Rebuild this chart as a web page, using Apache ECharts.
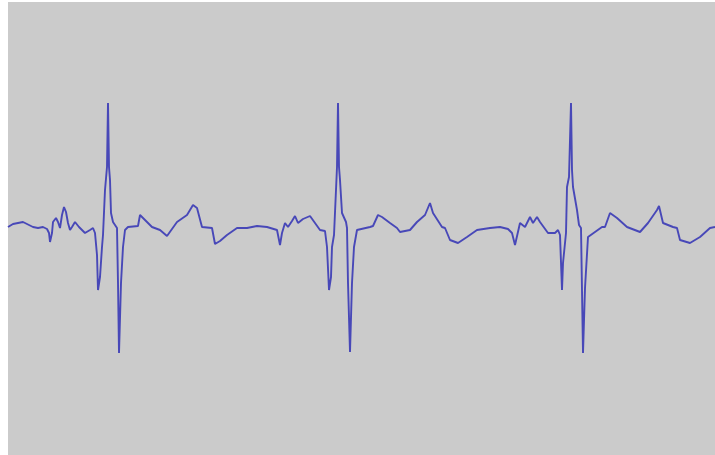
<!DOCTYPE html>
<html>
<head>
<meta charset="utf-8">
<script src="https://cdn.jsdelivr.net/npm/echarts@6/dist/echarts.min.js"></script>
<style>
  html, body { margin: 0; padding: 0; background: #ffffff; }
  #chart { position: absolute; left: 0; top: 0; width: 715px; height: 455px; }
</style>
</head>
<body>
<div id="chart"></div>
<script>
// ECG trace: sample index and amplitude (arbitrary units, baseline = 0)
const sampleIdx = [
  0,5,15,19,25,30,35,39,41,42,44,45,48,50,52,54,56,58,60,62,64,67,69,71,74,77,82,85,87,89,90,92,94,95,97,99,100,101,102,103,105,109,110,111,113,115,117,120,130,132,134,139,144,152,159,169,179,185,189,194,204,207,212,219,229,239,249,259,269,272,274,277,280,284,287,290,295,302,312,317,318,
  319,321,323,324,326,328,329,330,331,332,334,338,339,340,342,344,346,349,362,365,370,374,382,389,392,402,409,417,422,425,434,437,442,450,459,469,482,492,500,504,507,512,517,522,525,529,532,540,547,550,
  552,554,555,558,559,561,563,564,565,569,571,573,575,577,580,594,597,602,609,619,632,640,649,651,655,665,669,672,682,692,702,707
];
const amplitude = [
  1,4,6,4,1,0,1,-1,-5,-14,-5,6,10,6,0,13,21,16,5,-2,1,6,8,1,-2,-5,-2,0,-5,-27,-62,-49,-19,-7,38,61,125,61,48,15,6,0,-55,-125,-55,-19,-2,1,2,13,13,6,1,-2,-8,6,13,23,20,1,0,-16,-13,-7,0,0,2,1,-2,-17,-5,5,1,7,12,5,9,12,-2,-3,-5,-19,
  -62,-49,-19,-7,38,61,125,61,48,15,6,0,-55,-124,-55,-19,-2,1,2,13,11,5,0,-4,-2,6,13,25,15,1,0,-12,-15,-9,-2,0,1,-1,-5,-17,5,1,11,5,11,6,-5,-5,-2,-7,
  -62,-35,-5,41,51,125,58,41,18,3,0,-125,-60,-9,1,1,15,10,1,-4,5,18,22,5,1,0,-12,-15,-9,0,1,2
];

const points = sampleIdx.map((t, i) => [t, amplitude[i]]);

const chart = echarts.init(document.getElementById('chart'), null, { renderer: 'canvas' });
chart.setOption({
  animation: false,
  backgroundColor: '#ffffff',
  grid: {
    left: 8, top: 2, right: 0, bottom: 0,
    show: true,
    backgroundColor: '#cbcbcb',
    borderWidth: 0
  },
  xAxis: {
    type: 'value', min: 0, max: 707,
    show: false
  },
  yAxis: {
    type: 'value', min: -227, max: 226,
    show: false
  },
  series: [{
    type: 'line',
    data: points,
    showSymbol: false,
    lineStyle: { color: '#4848b8', width: 1.9 },
    silent: true
  }]
});
</script>
</body>
</html>
